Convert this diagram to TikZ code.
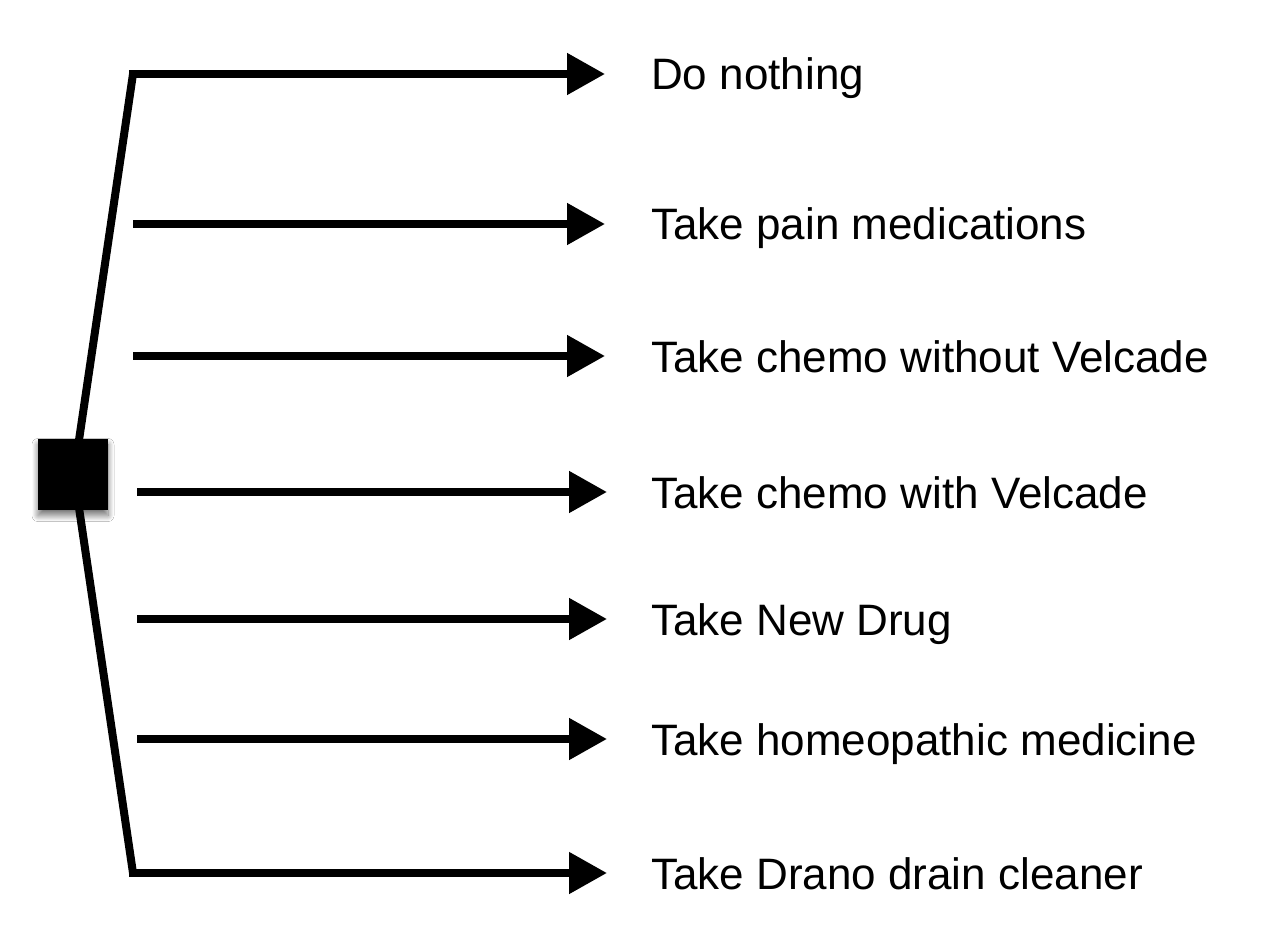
\documentclass[tikz,border=0pt]{standalone}
\usepackage{fontspec}
\setmainfont{Liberation Sans}
\usetikzlibrary{arrows.meta,shadows.blur}
\begin{document}
\begin{tikzpicture}[x=1pt,y=-1pt,
  branch/.style={line width=8pt,-{Triangle[length=38pt,width=40pt]}},
  stem/.style={line width=8pt,line join=miter},
  label/.style={anchor=base west,inner sep=0pt,font=\fontsize{44}{50}\selectfont},
  decision/.style={fill=black,minimum width=70pt,minimum height=71pt,inner sep=0pt,
    blur shadow={shadow xshift=0pt,shadow yshift=-6pt,shadow blur radius=6pt,shadow blur steps=12,shadow opacity=55}}]
\useasboundingbox (0,0) rectangle (1288,952);
\fill[white] (0,0) rectangle (1288,952);
\coordinate (c1) at (133,74);
\coordinate (c7) at (133,873);
\coordinate (s2) at (133,224);
\coordinate (s3) at (133,356);
\coordinate (s4) at (137,492);
\coordinate (s5) at (137,619);
\coordinate (s6) at (137,739);
\coordinate (e1) at (605,74);
\coordinate (e2) at (605,224);
\coordinate (e3) at (605,356);
\coordinate (e4) at (607,492);
\coordinate (e5) at (607,619);
\coordinate (e6) at (607,739);
\coordinate (e7) at (607,873);
\coordinate (sqc) at (74,474);
\draw[stem] (sqc) -- (c1);
\draw[stem] (sqc) -- (c7);
\node[decision] (sq) at (73,474) {};
\draw[branch] ([xshift=-4pt]c1) -- (e1);
\draw[branch] (s2) -- (e2);
\draw[branch] (s3) -- (e3);
\draw[branch] (s4) -- (e4);
\draw[branch] (s5) -- (e5);
\draw[branch] (s6) -- (e6);
\draw[branch] ([xshift=-4pt]c7) -- (e7);
\node[label] (t1) at (651,90) {Do nothing};
\node[label] (t2) at (651,240) {Take pain medications};
\node[label] (t3) at (651,372) {Take chemo without Velcade};
\node[label] (t4) at (651,508) {Take chemo with Velcade};
\node[label] (t5) at (651,635) {Take New Drug};
\node[label] (t6) at (651,755) {Take homeopathic medicine};
\node[label] (t7) at (651,889) {Take Drano drain cleaner};
\end{tikzpicture}
\end{document}
